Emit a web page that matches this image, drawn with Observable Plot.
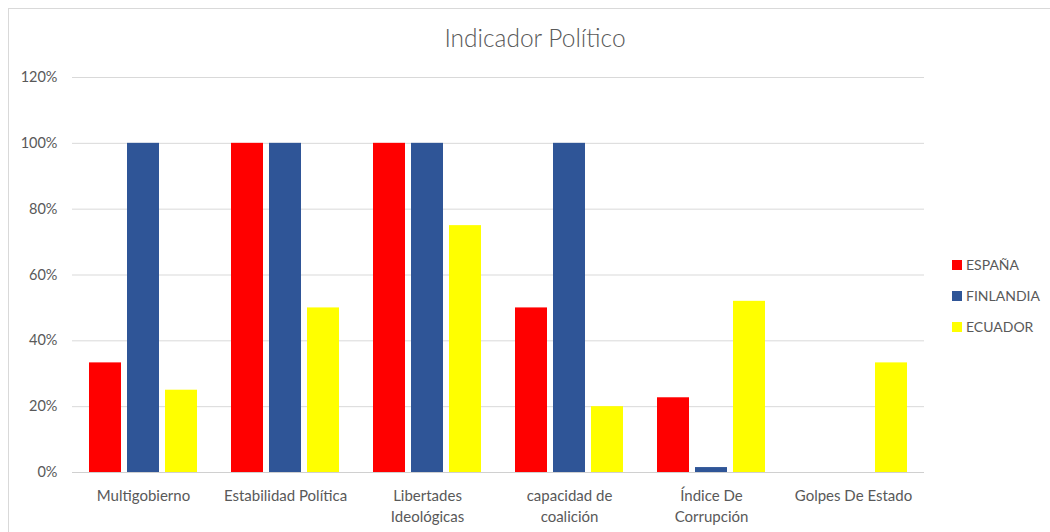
<!DOCTYPE html>
<html><head><meta charset="utf-8">
<script src="https://cdn.jsdelivr.net/npm/d3@7"></script>
<script src="https://cdn.jsdelivr.net/npm/@observablehq/plot@0.6"></script>
<style>
body{margin:0;background:#fff;font-family:Lato,"Open Sans",sans-serif;}
#wrap{position:relative;width:1050px;height:532px;overflow:hidden;}
#frame{position:absolute;left:8px;top:8px;width:1060px;height:540px;border:1px solid #d9d9d9;box-sizing:border-box;}
#title{position:absolute;left:0;width:1070px;top:23px;text-align:center;font-size:24.5px;color:#595959;font-weight:300;}
#chart{position:absolute;left:0;top:0;}
#legend{position:absolute;left:952px;top:256px;font-size:14px;color:#595959;}
#legend div{height:31px;display:flex;align-items:flex-start;}
#legend span.sw{display:inline-block;width:10px;height:10px;margin-right:4px;margin-top:4px;}
</style></head>
<body><div id="wrap"><div id="frame"></div><div id="title">Indicador Político</div><div id="chart"></div><div id="legend"></div></div>
<script>
const categories = ["Multigobierno","Estabilidad Política","Libertades\nIdeológicas","capacidad de\ncoalición","Índice De\nCorrupción","Golpes De Estado"];
const series = ["ESPAÑA","FINLANDIA","ECUADOR"];
const colors = ["#FF0000","#2F5597","#FFFF00"];
const espana = [0.333, 1.00, 1.00, 0.50, 0.227, 0];
const finlandia = [1.00, 1.00, 1.00, 1.00, 0.015, 0];
const ecuador = [0.25, 0.50, 0.75, 0.20, 0.52, 0.333];
const yTicks = [0,0.2,0.4,0.6,0.8,1.0,1.2];

const values = [espana, finlandia, ecuador];
const data = [];
categories.forEach((c,i)=>series.forEach((s,j)=>data.push({cat:c, serie:s, value:values[j][i]})));

const chart = Plot.plot({
  width:1050, height:532,
  marginLeft:72, marginRight:126, marginTop:77, marginBottom:60,
  style:{fontFamily:"Lato, 'Open Sans', sans-serif", fontSize:"14.5px", color:"#595959", background:"transparent"},
  fx:{domain:categories, padding:0, label:null},
  x:{domain:series, axis:null, paddingInner:0.154, paddingOuter:0.398},
  y:{domain:[0,1.2], label:null},
  color:{domain:series, range:colors},
  marks:[
    Plot.gridY(yTicks,{stroke:"#d9d9d9", strokeOpacity:1}),
    Plot.axisY(yTicks,{tickFormat:d=>Math.round(d*100)+"%", tickSize:0, tickPadding:15, label:null, fill:"#595959"}),
    Plot.axisFx({anchor:"bottom", tickSize:0, tickPadding:14, lineHeight:1.38, label:null, fill:"#595959", fontSize:15}),
    Plot.barY(data,{fx:"cat", x:"serie", y:"value", fill:"serie"}),
    Plot.ruleY([0],{stroke:"#d0d0d0"})
  ]
});
document.getElementById("chart").appendChild(chart);

const lg = document.getElementById("legend");
series.forEach((s,i)=>{
  const d=document.createElement("div");
  d.innerHTML=`<span class="sw" style="background:${colors[i]}"></span>${s}`;
  lg.appendChild(d);
});
</script></body></html>
